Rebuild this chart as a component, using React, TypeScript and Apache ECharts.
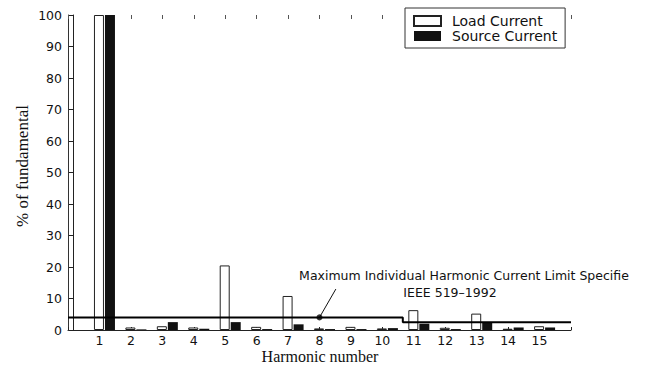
import React, { useEffect, useRef } from "react";
import * as echarts from "echarts";

// Harmonic spectrum, % of the fundamental
const harmonics = [1, 2, 3, 4, 5, 6, 7, 8, 9, 10, 11, 12, 13, 14, 15];
const loadCurrent = [100, 0.8, 1.2, 0.8, 20.5, 1.0, 10.8, 0.5, 1.0, 0.5, 6.3, 0.7, 5.2, 0.4, 1.2];
const sourceCurrent = [100, 0.2, 2.5, 0.4, 2.5, 0.3, 1.8, 0.3, 0.3, 0.6, 2.0, 0.3, 2.4, 0.8, 0.8];

// IEEE 519 individual harmonic limit (step line)
const limitX = [0, 10.65, 10.65, 16];
const limitY = [4, 4, 2.5, 2.5];

// Callout pointer: from the limit line to the note text
const calloutFrom = [8, 4];
const calloutTo = [8.52, 13];

const yTicks = [0, 10, 20, 30, 40, 50, 60, 70, 80, 90, 100];

const SANS = '"DejaVu Sans", "Liberation Sans", sans-serif';
const SERIF = '"Liberation Serif", "DejaVu Serif", serif';

export default function App() {
  const ref = useRef<HTMLDivElement>(null);

  useEffect(() => {
    if (!ref.current) return;
    const chart = echarts.init(ref.current, undefined, { renderer: "svg" });

    const tickLabel = (v: number) => (harmonics.includes(v) ? String(v) : "");

    chart.setOption({
      animation: false,
      backgroundColor: "#fff",
      grid: { left: 68, right: 79, top: 15, bottom: 35, containLabel: false },
      legend: {
        data: [
          { name: "Load Current", icon: "rect" },
          { name: "Source Current", icon: "rect" },
        ],
        orient: "vertical",
        left: 405,
        top: 8,
        padding: [6, 8, 5, 8],
        itemWidth: 27,
        itemHeight: 10,
        itemGap: 1,
        borderColor: "#333",
        borderWidth: 1,
        backgroundColor: "#fff",
        textStyle: {
          fontFamily: SANS,
          fontSize: 14,
          color: "#111",
          lineHeight: 14,
          padding: [0, 0, 0, 6],
        },
      },
      xAxis: [
        {
          type: "value",
          min: 0,
          max: 16,
          interval: 1,
          position: "bottom",
          axisLine: { show: true, lineStyle: { color: "#222", width: 1 } },
          axisTick: { show: true, inside: true, length: 3, lineStyle: { color: "#222" } },
          axisLabel: {
            formatter: tickLabel,
            fontFamily: SANS,
            fontSize: 12.5,
            lineHeight: 11,
            color: "#111",
            margin: 5,
          },
          splitLine: { show: false },
        },
        {
          // bar placement axis, nudged so the pair sits on the tick
          type: "value",
          min: -0.16,
          max: 15.84,
          show: false,
        },
        {
          type: "value",
          min: 0,
          max: 16,
          interval: 1,
          position: "top",
          axisLine: { show: false },
          axisTick: { show: true, inside: true, length: 4, lineStyle: { color: "#555" } },
          axisLabel: { show: false },
          splitLine: { show: false },
        },
      ],
      yAxis: [
        {
          type: "value",
          min: 0,
          max: 100,
          interval: 10,
          position: "left",
          axisLine: { show: true, lineStyle: { color: "#333", width: 1 } },
          axisTick: { show: true, inside: true, length: 4, lineStyle: { color: "#333" } },
          axisLabel: {
            formatter: (v: number) => (yTicks.includes(v) ? String(v) : ""),
            fontFamily: SANS,
            fontSize: 12.5,
            color: "#111",
            margin: 6,
          },
          splitLine: { show: false },
        },
        {
          type: "value",
          min: 0,
          max: 100,
          interval: 10,
          position: "right",
          axisLine: { show: true, lineStyle: { color: "#222", width: 1 } },
          axisTick: { show: true, inside: true, length: 4, lineStyle: { color: "#222" } },
          axisLabel: { show: false },
          splitLine: { show: false },
        },
      ],
      series: [
        {
          name: "Load Current",
          type: "bar",
          xAxisIndex: 1,
          yAxisIndex: 0,
          barWidth: 10,
          barGap: "10%",
          data: harmonics.map((h, i) => [h, loadCurrent[i]]),
          itemStyle: { color: "#fff", borderColor: "#222", borderWidth: 1 },
          z: 2,
        },
        {
          name: "Source Current",
          type: "bar",
          xAxisIndex: 1,
          yAxisIndex: 0,
          barWidth: 10,
          barGap: "10%",
          data: harmonics.map((h, i) => [h, sourceCurrent[i]]),
          itemStyle: { color: "#111" },
          z: 2,
        },
        {
          name: "Limit",
          type: "line",
          xAxisIndex: 0,
          yAxisIndex: 0,
          data: limitX.map((x, i) => [x, limitY[i]]),
          symbol: "none",
          lineStyle: { color: "#000", width: 2 },
          z: 4,
        },
        {
          name: "Callout",
          type: "scatter",
          xAxisIndex: 0,
          yAxisIndex: 0,
          data: [calloutFrom],
          symbolSize: 6,
          itemStyle: { color: "#000" },
          z: 5,
          markLine: {
            silent: true,
            symbol: ["none", "none"],
            label: { show: false },
            lineStyle: { color: "#111", width: 1, type: "solid" },
            data: [[{ coord: calloutFrom }, { coord: calloutTo }]],
          },
        },
      ],
      graphic: [
        {
          type: "text",
          x: 22,
          y: 166,
          rotation: Math.PI / 2,
          style: {
            text: "% of fundamental",
            font: `17px ${SERIF}`,
            fill: "#111",
            textAlign: "center",
            textVerticalAlign: "middle",
          },
        },
        {
          type: "text",
          x: 320,
          y: 356,
          style: {
            text: "Harmonic number",
            font: `16px ${SERIF}`,
            fill: "#111",
            textAlign: "center",
            textVerticalAlign: "middle",
          },
        },
        {
          type: "text",
          x: 464,
          y: 275,
          z: 10,
          style: {
            text: "Maximum Individual Harmonic Current Limit Specifie",
            font: `12.5px ${SANS}`,
            fill: "#111",
            textAlign: "center",
            textVerticalAlign: "middle",
          },
        },
        {
          type: "text",
          x: 450,
          y: 292,
          z: 10,
          style: {
            text: "IEEE 519–1992",
            font: `12.5px ${SANS}`,
            fill: "#111",
            textAlign: "center",
            textVerticalAlign: "middle",
          },
        },
      ],
    });

    return () => chart.dispose();
  }, []);

  return (
    <div
      ref={ref}
      style={{ position: "fixed", left: 0, top: 0, width: 650, height: 365 }}
    />
  );
}
